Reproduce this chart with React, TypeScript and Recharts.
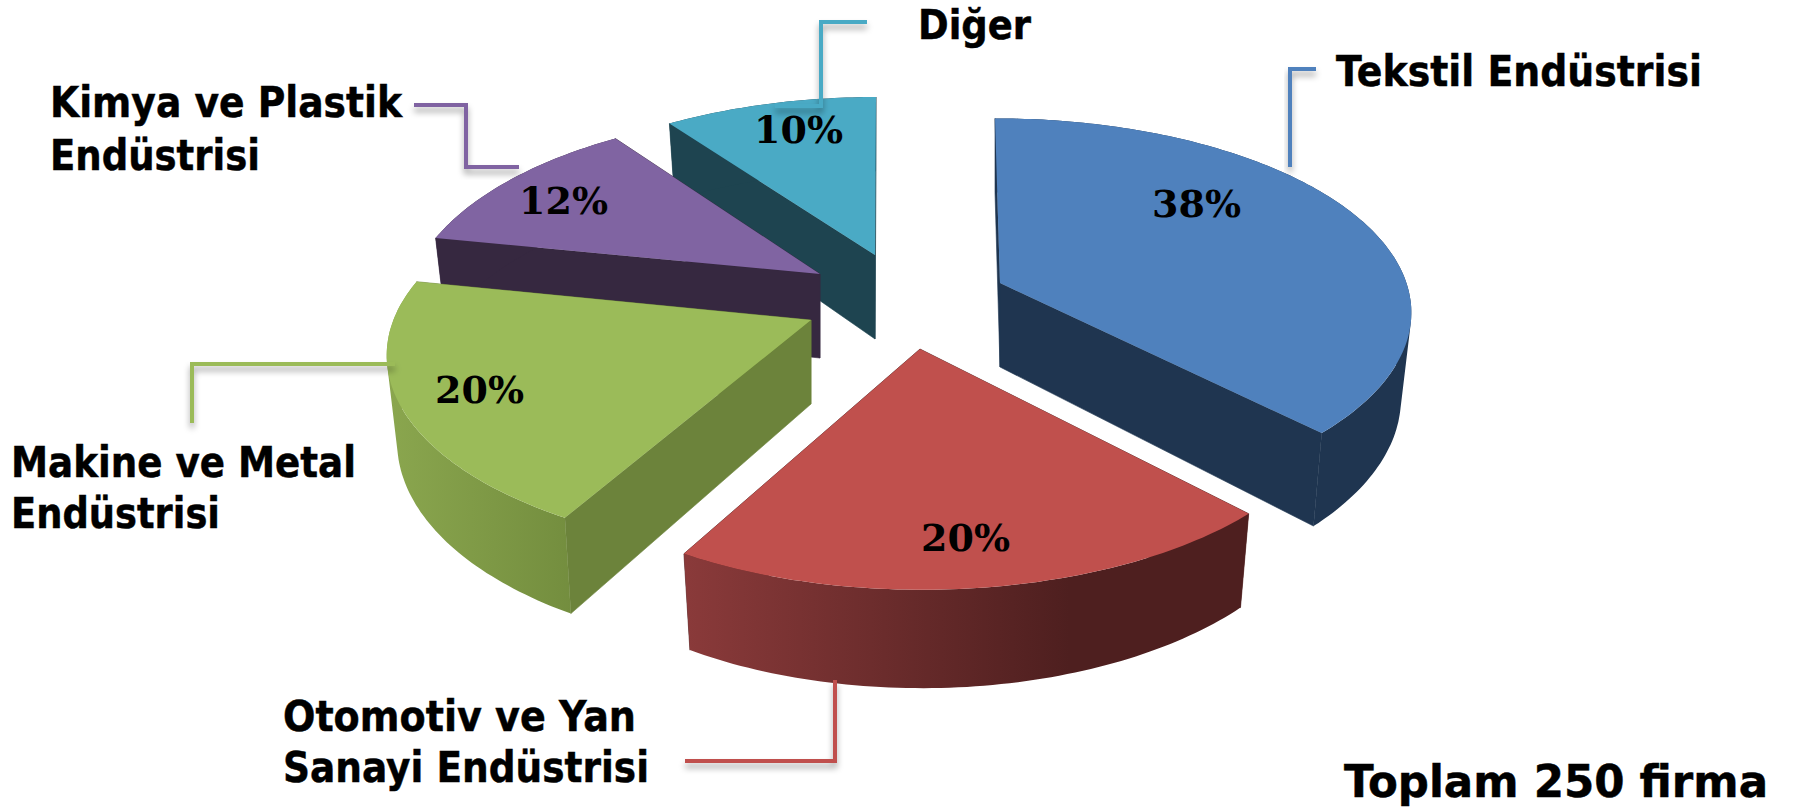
import React from 'react';
import { PieChart, Pie } from 'recharts';

// listed counter-clockwise from the top, so later slices paint over earlier ones
const CATEGORIES = ['Diğer', 'Kimya ve Plastik Endüstrisi', 'Makine ve Metal Endüstrisi', 'Otomotiv ve Yan Sanayi Endüstrisi', 'Tekstil Endüstrisi'];
const VALUES = [10, 12, 20, 20, 38];

const TOP_COLORS = ['#4AAAC5', '#8064A2', '#9BBB59', '#C0504D', '#4F81BD'];
const WALL_COLORS = ['#1E4450', '#362840', '#6C833B', '#4E1F1F', '#1F3550'];
const OUTER_FILLS = ['#1E4450', '#362840', 'url(#greenWall)', 'url(#redWall)', '#1F3550'];

// how far each slice is pulled out of the pie, in pixels
const EXPLODE = [[-10, -40], [-65, -21], [-74, 25], [35, 54], [115, -12]];
// small per-slice correction of the rim: dx, dy, vertical squash
const RIM_TWEAK = [[1, 3, 1], [2, -1, 1], [-8, -4, 0.985], [2, 1, 0.995], [-5, -9, 0.967]];

const CX = 885;
const CY = 295;
const RADIUS = 408;
const FLATTEN = 0.473;
const PERSPECTIVE = 0.199;
const DEPTH = 84;

// label lines split, with x / right edge / baseline / size
const NAME_LINES = [
  [{ t: 'Diğer', x: 918, r: 1031, y: 39, s: 40 }],
  [{ t: 'Kimya ve Plastik', x: 50, r: 402, y: 117, s: 43 }, { t: 'Endüstrisi', x: 50, r: 260, y: 170, s: 43 }],
  [{ t: 'Makine ve Metal', x: 11, r: 356, y: 477, s: 43 }, { t: 'Endüstrisi', x: 11, r: 220, y: 528, s: 43 }],
  [{ t: 'Otomotiv ve Yan', x: 283, r: 636, y: 731, s: 43 }, { t: 'Sanayi Endüstrisi', x: 283, r: 649, y: 782, s: 43 }],
  [{ t: 'Tekstil Endüstrisi', x: 1336, r: 1702, y: 86, s: 43 }],
];
const LEADERS = [
  '867,22 821,22 821,106 775,106',
  '414,105 466,105 466,167 519,167',
  '395,364 192,364 192,423',
  '835,680 835,761 685,761',
  '1316,69 1290,69 1290,167',
];
const PERCENT_POS = [[754, 143], [519, 214], [435, 403], [921, 551], [1152, 217]];

const SANS = '"DejaVu Sans", sans-serif';

const project = (cx: number, cy: number, r: number, angle: number, lower: boolean, tweak: number[]) => {
  const a = (angle * Math.PI) / 180;
  const u = Math.cos(a);
  const v = -Math.sin(a);
  const w = 1 - PERSPECTIVE * v;
  let x = (r * u) / w;
  let y = ((r * FLATTEN * v) / w) * tweak[2] + tweak[1];
  if (lower) {
    x *= 0.975;
    y = y * 1.06 + DEPTH;
  }
  return [cx + x + tweak[0], cy + y];
};

const arcPoints = (cx: number, cy: number, r: number, from: number, to: number, lower: boolean, tweak: number[]) => {
  const steps = Math.max(2, Math.ceil(Math.abs(to - from)));
  const pts: number[][] = [];
  for (let i = 0; i <= steps; i++) pts.push(project(cx, cy, r, from + ((to - from) * i) / steps, lower, tweak));
  return pts;
};

const toPath = (pts: number[][]) => 'M' + pts.map((p) => `${p[0].toFixed(1)},${p[1].toFixed(1)}`).join('L') + 'Z';

function Slice3D(props: any) {
  const { cx, cy, outerRadius, startAngle, endAngle, index } = props;
  const i = index ?? CATEGORIES.indexOf(props.name);
  const x0 = cx + EXPLODE[i][0];
  const y0 = cy + EXPLODE[i][1];
  const tweak = RIM_TWEAK[i];
  const upper = arcPoints(x0, y0, outerRadius, startAngle, endAngle, false, tweak);
  const lower = arcPoints(x0, y0, outerRadius, startAngle, endAngle, true, tweak);
  const apexUp = [x0, y0];
  const apexDown = [x0, y0 + DEPTH];
  const wallA = [apexUp, upper[0], lower[0], apexDown];
  const wallB = [apexUp, upper[upper.length - 1], lower[lower.length - 1], apexDown];
  // the rim is one path of small quads, so its silhouette follows the tangent between both arcs
  let rim = '';
  for (let k = 0; k < upper.length - 1; k++) {
    const quad = [upper[k], upper[k + 1], lower[k + 1], lower[k]];
    const area = quad.reduce((s, p, j) => {
      const q = quad[(j + 1) % 4];
      return s + p[0] * q[1] - q[0] * p[1];
    }, 0);
    rim += toPath(area < 0 ? [...quad].reverse() : quad);
  }
  return (
    <g>
      <path d={toPath(wallA)} fill={WALL_COLORS[i]} stroke={WALL_COLORS[i]} strokeWidth={0.6} />
      <path d={toPath(wallB)} fill={WALL_COLORS[i]} stroke={WALL_COLORS[i]} strokeWidth={0.6} />
      <path d={rim} fill={OUTER_FILLS[i]} fillRule="nonzero" />
      <path d={toPath([apexUp, ...upper])} fill={TOP_COLORS[i]} />
    </g>
  );
}

function SliceLabel(props: any) {
  const { index, value } = props;
  return (
    <g>
      <polyline points={LEADERS[index]} fill="none" stroke={TOP_COLORS[index]} strokeWidth={4} filter="url(#leaderShadow)" />
      {NAME_LINES[index].map((line) => (
        <text
          key={line.t}
          x={line.x}
          y={line.y}
          fontFamily={SANS}
          fontWeight={700}
          fontSize={line.s}
          fill="#000"
          stroke="#000"
          strokeWidth={0.5}
          textLength={line.r - line.x}
          lengthAdjust="spacingAndGlyphs"
        >
          {line.t}
        </text>
      ))}
      <text x={PERCENT_POS[index][0]} y={PERCENT_POS[index][1]} fontFamily='"DejaVu Serif", serif' fontWeight={700} fontSize={38} fill="#000">
        {value}%
      </text>
    </g>
  );
}

const chartData = CATEGORIES.map((name, i) => ({ name, value: VALUES[i] }));

export default function App() {
  return (
    <div style={{ position: 'absolute', left: 0, top: 0, width: 1794, height: 811, background: '#fff', overflow: 'hidden' }}>
      <PieChart width={1794} height={811} margin={{ top: 0, right: 0, bottom: 0, left: 0 }}>
        <defs>
          <linearGradient id="redWall" gradientUnits="userSpaceOnUse" x1="685" y1="0" x2="1070" y2="0">
            <stop offset="0" stopColor="#8A3A3A" />
            <stop offset="1" stopColor="#4E1F1F" />
          </linearGradient>
          <linearGradient id="greenWall" gradientUnits="userSpaceOnUse" x1="390" y1="0" x2="575" y2="0">
            <stop offset="0" stopColor="#8AA64E" />
            <stop offset="1" stopColor="#738D3E" />
          </linearGradient>
          <filter id="leaderShadow" x="-20%" y="-20%" width="140%" height="140%">
            <feDropShadow dx="0" dy="5" stdDeviation="3" floodColor="#000" floodOpacity="0.35" />
          </filter>
        </defs>
        <Pie
          data={chartData}
          dataKey="value"
          nameKey="name"
          cx={CX}
          cy={CY}
          innerRadius={0}
          outerRadius={RADIUS}
          startAngle={90}
          endAngle={450}
          stroke="none"
          isAnimationActive={false}
          shape={Slice3D}
          label={SliceLabel}
          labelLine={false}
        />
        <text
          x={1344}
          y={797}
          fontFamily={SANS}
          fontWeight={700}
          fontSize={45}
          fill="#000"
          stroke="#000"
          strokeWidth={0.5}
          textLength={424}
          lengthAdjust="spacingAndGlyphs"
        >
          Toplam 250 firma
        </text>
      </PieChart>
    </div>
  );
}
